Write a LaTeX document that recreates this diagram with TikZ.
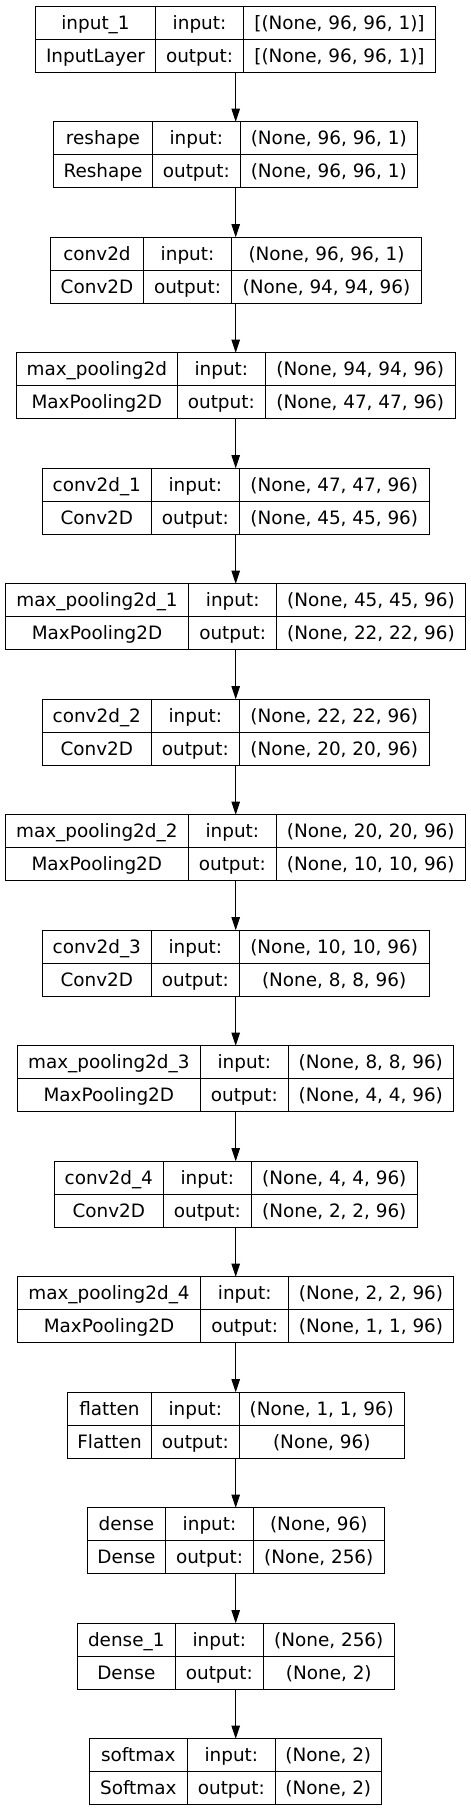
\documentclass[tikz,border=0pt]{standalone}
\usepackage{fontspec}
\setmainfont{DejaVu Sans}
\usetikzlibrary{arrows.meta}
\tikzset{
  layerbox/.style={draw=black, line width=1pt, inner sep=0pt, outer sep=0pt, anchor=north west, minimum height=66pt},
  cellline/.style={draw=black, line width=1pt},
  celltxt/.style={anchor=base, inner sep=0pt, font=\fontsize{18.4}{20}\selectfont},
  flow/.style={draw=black, line width=1pt, -{Triangle[length=13.3pt,width=8.5pt]}}
}
\newcommand{\lyr}[9]{%
  \pgfmathsetmacro\ty{6.3+(#1-1)*115.5}%
  \node[layerbox, minimum width=#5pt-#2pt] (L#1) at (#2,\ty) {};
  \draw[cellline] (#3,\ty) -- (#3,\ty+66);
  \draw[cellline] (#4,\ty) -- (#4,\ty+66);
  \draw[cellline] (#2,\ty+33) -- (#5,\ty+33);
  \node[celltxt] (L#1n) at ({(#2+#3)/2},\ty+23) {#6};
  \node[celltxt] (L#1c) at ({(#2+#3)/2},\ty+56) {#7};
  \node[celltxt] (L#1i) at ({(#3+#4)/2},\ty+23) {input:};
  \node[celltxt] (L#1o) at ({(#3+#4)/2},\ty+56) {output:};
  \node[celltxt] (L#1a) at ({(#4+#5)/2},\ty+23) {#8};
  \node[celltxt] (L#1b) at ({(#4+#5)/2},\ty+56) {#9};
}
\begin{document}
\begin{tikzpicture}[x=1pt,y=-1pt]
\useasboundingbox (0,0) rectangle (471,1810);
\coordinate (ax) at (235.7,0);
\lyr{1}{35.7}{155.3}{243.7}{435.3}{input\_1}{InputLayer}{[(None, 96, 96, 1)]}{[(None, 96, 96, 1)]}
\lyr{2}{53.7}{152.3}{240.3}{417.3}{reshape}{Reshape}{(None, 96, 96, 1)}{(None, 96, 96, 1)}
\lyr{3}{50.7}{143.3}{231.7}{421.3}{conv2d}{Conv2D}{(None, 96, 96, 1)}{(None, 94, 94, 96)}
\lyr{4}{16.3}{177.3}{265.3}{455.3}{max\_pooling2d}{MaxPooling2D}{(None, 94, 94, 96)}{(None, 47, 47, 96)}
\lyr{5}{42.3}{151.3}{239.3}{429.3}{conv2d\_1}{Conv2D}{(None, 47, 47, 96)}{(None, 45, 45, 96)}
\lyr{6}{5.3}{188.7}{276.7}{465.3}{max\_pooling2d\_1}{MaxPooling2D}{(None, 45, 45, 96)}{(None, 22, 22, 96)}
\lyr{7}{42.3}{151.3}{239.3}{429.3}{conv2d\_2}{Conv2D}{(None, 22, 22, 96)}{(None, 20, 20, 96)}
\lyr{8}{5.3}{188.3}{276.3}{465.3}{max\_pooling2d\_2}{MaxPooling2D}{(None, 20, 20, 96)}{(None, 10, 10, 96)}
\lyr{9}{42.3}{151.3}{239.3}{429}{conv2d\_3}{Conv2D}{(None, 10, 10, 96)}{(None, 8, 8, 96)}
\lyr{10}{17.3}{200.3}{288.3}{453.3}{max\_pooling2d\_3}{MaxPooling2D}{(None, 8, 8, 96)}{(None, 4, 4, 96)}
\lyr{11}{54.3}{163.3}{251.3}{417.3}{conv2d\_4}{Conv2D}{(None, 4, 4, 96)}{(None, 2, 2, 96)}
\lyr{12}{17.3}{200.7}{288.7}{453.3}{max\_pooling2d\_4}{MaxPooling2D}{(None, 2, 2, 96)}{(None, 1, 1, 96)}
\lyr{13}{67.7}{151.3}{239.3}{404.3}{flatten}{Flatten}{(None, 1, 1, 96)}{(None, 96)}
\lyr{14}{87.3}{165.7}{253.3}{384.3}{dense}{Dense}{(None, 96)}{(None, 256)}
\lyr{15}{77.3}{175.3}{263.3}{394.3}{dense\_1}{Dense}{(None, 256)}{(None, 2)}
\lyr{16}{89.3}{187.3}{275.3}{381.3}{softmax}{Softmax}{(None, 2)}{(None, 2)}
\foreach \i [evaluate=\i as \j using int(\i+1)] in {1,...,15}
  \draw[flow] (L\i.south -| ax) -- (L\j.north -| ax);
\end{tikzpicture}
\end{document}
